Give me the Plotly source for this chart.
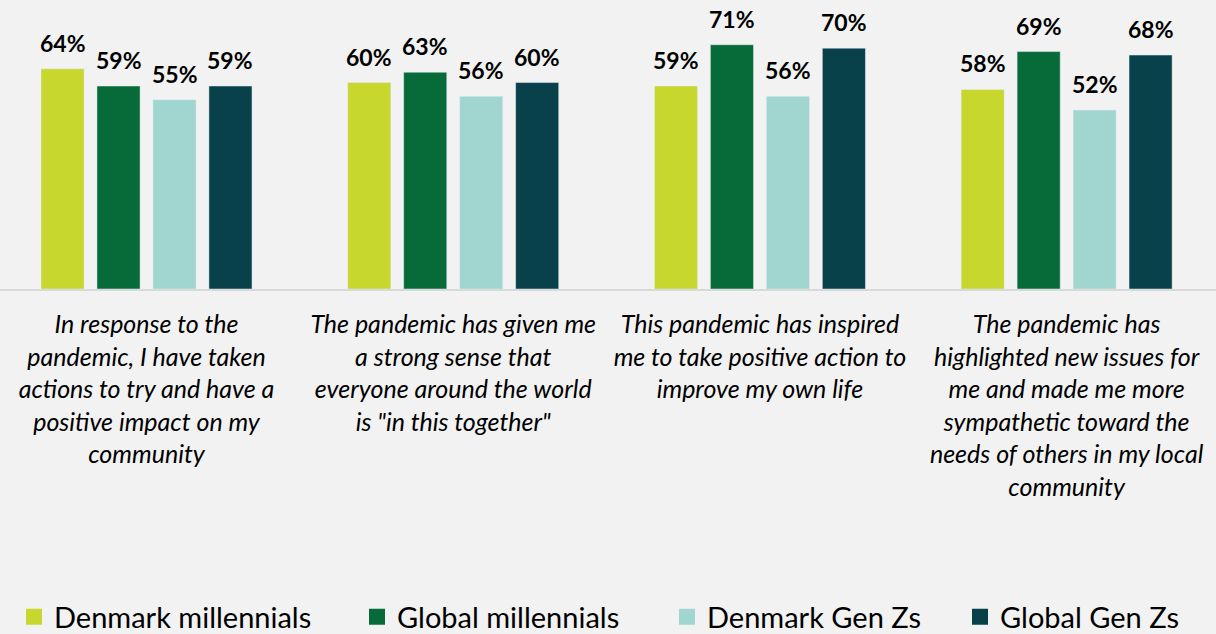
import plotly.graph_objects as go

statements = [
    "In response to the<br>pandemic, I have taken<br>actions to try and have a<br>positive impact on my<br>community",
    "The pandemic has given me<br>a strong sense that<br>everyone around the world<br>is \"in this together\"",
    "This pandemic has inspired<br>me to take positive action to<br>improve my own life",
    "The pandemic has<br>highlighted new issues for<br>me and made me more<br>sympathetic toward the<br>needs of others in my local<br>community",
]
series_names = ["Denmark millennials", "Global millennials", "Denmark Gen Zs", "Global Gen Zs"]
denmark_millennials = [64, 60, 59, 58]
global_millennials = [59, 63, 71, 69]
denmark_genz = [55, 56, 56, 52]
global_genz = [59, 60, 70, 68]
series_values = [denmark_millennials, global_millennials, denmark_genz, global_genz]
colors = ["#C8D72E", "#066B38", "#A0D5D0", "#08414A"]

FONT = "Lato"
BARGAP = 0.27
BARGROUPGAP = 0.23
xs = list(range(len(statements)))

fig = go.Figure()
for j, (name, vals, col) in enumerate(zip(series_names, series_values, colors)):
    fig.add_trace(go.Bar(x=xs, y=vals, name=name, marker_color=col, showlegend=False,
                         hoverinfo="y"))

legend_x_px = [14, 357, 667, 960]
for j, (name, col) in enumerate(zip(series_names, colors)):
    lname = "legend" if j == 0 else f"legend{j+1}"
    fig.add_trace(go.Scatter(x=[None], y=[None], mode="markers", name=name,
                             marker=dict(symbol="square", size=16, color=col),
                             legend=lname, showlegend=True))

annotations = []
slot = (1 - BARGAP) / len(series_names)
for j, vals in enumerate(series_values):
    for i, v in enumerate(vals):
        annotations.append(dict(x=i + (j - 1.5) * slot, y=v, text=f"{v}%", showarrow=False,
                                xref="x", yref="y", yanchor="bottom", yshift=10,
                                font=dict(family=FONT, size=23, color="#000000", weight="bold")))

layout_legends = {}
for j in range(len(series_names)):
    lname = "legend" if j == 0 else f"legend{j+1}"
    layout_legends[lname] = dict(x=legend_x_px[j] / 1216, xref="container", xanchor="left",
                                 y=0.067, yref="container", yanchor="top",
                                 orientation="h", bgcolor="rgba(0,0,0,0)",
                                 font=dict(family=FONT, size=29, color="#000000"))

fig.update_layout(
    width=1216, height=634,
    paper_bgcolor="#F2F2F2", plot_bgcolor="#F2F2F2",
    margin=dict(l=0, r=0, t=0, b=345),
    barmode="group", bargap=BARGAP, bargroupgap=BARGROUPGAP,
    annotations=annotations,
    xaxis=dict(range=[-0.4777, 3.487], tickvals=xs, ticktext=statements,
               showline=True, linecolor="#D9D9D9", linewidth=2, showgrid=False,
               zeroline=False, ticks="", ticklabelstandoff=12,
               tickfont=dict(family=FONT, size=25, color="#000000", style="italic")),
    yaxis=dict(range=[0, 84], visible=False, showgrid=False, zeroline=False),
    **layout_legends,
)

fig.write_html("out.html")
